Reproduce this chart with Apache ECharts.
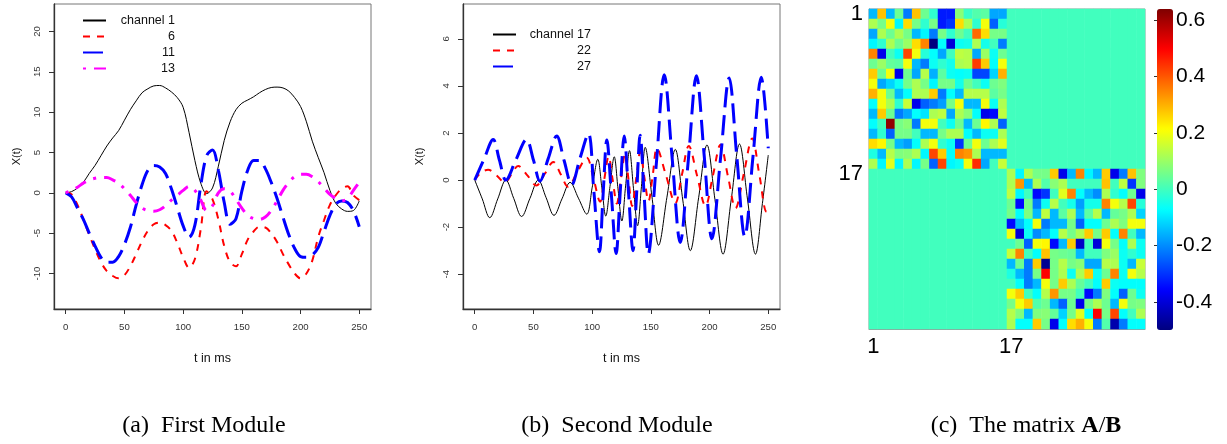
<!DOCTYPE html>
<html><head><meta charset="utf-8">
<script src="https://cdn.jsdelivr.net/npm/echarts@6/dist/echarts.min.js"></script>
<style>html,body{margin:0;padding:0;background:#fff}#c{width:1227px;height:444px}</style>
</head><body><div id="c"></div>
<script>
// ---------- Panel (a): First Module ----------
const tA = [0,5,10,15,20,25,30,35,40,45,50,55,60,65,70,75,80,85,90,95,100,105,110,115,120,125,130,135,140,145,150,155,160,165,170,175,180,185,190,195,200,205,210,215,220,225,230,235,240,245,250];
const ch1  = [0,0.15,0.6,1.3,2.4,3.4,4.6,5.8,6.8,7.7,9.0,10.3,11.4,12.4,12.9,13.25,13.3,13.0,12.5,11.8,10.6,7.5,4.0,1.2,-0.1,0.6,3.3,6.5,8.8,10.3,11.1,11.5,11.9,12.4,12.8,13.05,13.1,13.0,12.6,11.8,10.7,8.8,6.4,4.4,2.5,0.3,-1.3,-2.0,-2.3,-2.2,-1.0];
const ch6  = [0,-0.2,-1.5,-3.3,-5.2,-7.0,-8.6,-9.7,-10.3,-10.6,-10.2,-9.1,-7.6,-6.0,-4.7,-3.9,-3.7,-4.0,-4.7,-6.2,-8.0,-9.3,-8.2,-4.5,0.2,-0.8,-3.3,-6.6,-8.6,-9.1,-7.6,-5.8,-4.8,-4.2,-4.3,-5.0,-6.1,-7.6,-8.9,-10.0,-10.6,-10.0,-8.4,-5.5,-3.4,-1.5,-0.3,0.5,0.8,-0.3,-0.9];
const ch11 = [0,-0.5,-1.9,-3.3,-5.0,-6.6,-8.0,-8.6,-8.6,-7.9,-6.4,-4.3,-1.5,1.0,2.8,3.4,3.2,2.4,0.5,-1.8,-4.1,-5.5,-4.0,0.9,4.6,5.3,2.8,-1.2,-3.9,-3.2,0.2,2.8,4.0,4.0,3.0,1.3,-0.7,-3.0,-5.2,-6.9,-7.9,-8.0,-7.7,-6.8,-4.8,-2.8,-1.4,-1.0,-1.2,-2.2,-4.2];
const ch13 = [0,0.3,0.7,1.2,1.6,1.8,1.9,1.9,1.6,1.2,0.5,-0.3,-1.2,-1.9,-2.2,-2.3,-2.1,-1.6,-0.9,-0.3,0.3,0.8,0.3,-0.9,-2.2,-1.6,0.0,0.5,0.2,-0.8,-1.9,-2.8,-3.2,-3.3,-3.0,-2.2,-1.0,0.3,1.3,2.0,2.3,2.3,2.0,1.4,0.6,-0.2,-0.7,-1.0,-0.7,0.3,1.3];
const xTicks = [0,50,100,150,200,250];
const yTicksA = [-10,-5,0,5,10,15,20];

// ---------- Panel (b): Second Module (key points: time, value) ----------
const t17 = [0,6.4,12.8,19.6,26.5,33.2,39.9,47,54.1,60.8,67.5,74.3,81.2,88.3,95.4,100.1,104.8,108.2,111.6,115.2,118.8,122,125.3,128.5,131.8,135.2,138.7,142,145.2,150.9,156.6,163.7,170.8,177.2,183.6,190.7,197.8,204.6,211.5,218.5,225.5,232.3,239.1,245,250];
const v17 = [0,-0.8,-1.6,-0.8,0,-0.78,-1.55,-0.78,0,-0.75,-1.5,-0.8,-0.1,-0.77,-1.45,-0.3,0.88,-0.3,-1.53,-0.27,0.99,-0.37,-1.74,-0.25,1.25,-0.35,-1.94,-0.27,1.39,-0.69,-2.77,-0.73,1.3,-0.85,-3.0,-0.75,1.49,-0.83,-3.15,-0.81,1.53,-0.81,-3.15,-1.0,1.06];
const t22 = [0,5,11.4,18.5,25.6,31.3,37,44.8,52.5,59.7,66.9,73.2,79.5,87.4,95.4,101,106.8,110.4,114,117.5,121,124.5,128,131,134,137.5,141,144.5,148,151.6,155.2,163,170.8,176.5,182.3,189.4,196.5,202.9,209.3,215.7,222.1,229.2,236.3,242.5,248.6,250];
const v22 = [0,0.3,0.44,0.2,-0.1,0.25,0.6,0.2,-0.23,0.27,0.77,0.25,-0.29,0.35,0.95,0.1,-0.92,0.05,1.0,0,-1.0,0.05,1.1,0,-1.1,0.05,1.2,0.1,-0.9,0.2,1.35,0.18,-0.99,0.23,1.45,0.18,-1.1,0.2,1.5,0.15,-1.2,0.28,1.77,0.2,-1.35,-1.3];
const t27 = [0,8,15.7,21,26.5,35,44.1,50,55.5,62.5,69.8,76,82.6,89.5,96.8,101.5,106.2,109.3,112.5,116.5,120.4,123.8,127.3,131,134.8,137.9,140.9,144.3,147.8,154.6,161.4,168.2,175,182,188.8,195.5,202,209.4,216.7,223.2,230,237,244,250];
const v27 = [0,0.9,1.72,0.85,0,0.85,1.72,0.85,-0.05,0.9,1.87,0.85,-0.2,0.9,1.97,-0.5,-3.05,-0.65,1.7,-0.7,-3.12,-0.6,1.87,-0.55,-3.0,-0.55,1.9,-0.65,-3.15,0.65,4.47,0.9,-2.65,0.9,4.43,1.0,-2.5,0.95,4.34,1.0,-2.4,1.0,4.37,1.35];
const yTicksB = [-4,-2,0,2,4,6];

// ---------- Panel (c): matrix A/B (two 16x16 diagonal blocks, zeros elsewhere) ----------
const blockA = [
 [-0.15,0.28,-0.15,0.05,-0.22,0.28,0.05,-0.02,-0.33,-0.33,0.08,-0.01,0.02,0.03,-0.17,-0.17],
 [0.12,0.06,0.2,-0.08,0.25,0.06,-0.02,0.06,-0.33,-0.3,0.25,0.12,-0.02,0.2,-0.25,-0.03],
 [-0.17,0.12,0.05,0.12,0.06,-0.15,-0.08,-0.22,0.06,-0.02,0.05,0.0,0.38,0.25,0.06,0.06],
 [-0.08,-0.02,0.12,0.05,0.1,0.25,0.35,-0.5,-0.07,-0.4,-0.06,-0.05,0.12,-0.05,0.0,-0.22],
 [0.35,-0.38,0.0,-0.06,0.42,0.2,-0.03,-0.07,-0.17,0.0,0.14,0.13,-0.17,0.1,-0.06,0.05],
 [0.05,0.1,0.04,0.03,0.2,-0.15,-0.22,-0.06,-0.02,-0.05,0.12,0.13,0.43,0.27,-0.07,0.2],
 [0.27,0.05,0.2,-0.38,0.05,-0.17,0.13,-0.16,0.03,-0.06,-0.07,-0.06,-0.28,-0.28,-0.12,0.3],
 [0.2,-0.17,-0.12,-0.06,0.06,0.12,0.06,-0.08,0.06,0.06,-0.05,0.05,0.0,-0.06,0.05,0.07],
 [0.3,0.2,0.05,-0.15,-0.07,0.12,0.12,0.27,-0.22,-0.07,-0.15,0.13,0.13,0.13,0.03,0.06],
 [-0.07,0.2,0.12,-0.02,0.15,-0.38,-0.25,-0.22,-0.18,0.06,0.2,-0.15,-0.15,0.2,-0.06,0.12],
 [-0.15,0.27,0.05,-0.22,-0.17,-0.07,-0.1,0.12,0.14,-0.17,0.12,0.08,-0.07,-0.38,-0.35,0.14],
 [-0.07,0.0,0.62,0.06,0.08,-0.22,0.2,0.2,0.0,-0.06,0.05,-0.15,0.05,0.22,0.12,-0.25],
 [-0.15,-0.02,-0.25,0.06,0.06,0.0,-0.15,-0.15,0.06,0.12,0.12,-0.07,-0.15,-0.06,-0.06,0.12],
 [0.25,0.22,0.06,-0.15,-0.18,-0.07,0.12,0.2,-0.02,-0.06,-0.3,0.05,0.2,0.05,0.12,0.18],
 [-0.04,-0.15,0.13,0.07,0.08,0.12,-0.08,0.42,0.27,-0.07,0.35,0.33,0.12,-0.15,-0.15,-0.15],
 [0.12,-0.08,0.18,-0.08,0.12,-0.08,0.06,-0.25,0.42,-0.08,-0.06,0.2,0.45,-0.17,0.0,0.15]
];
const blockB = [
 [0.12,-0.08,0.12,0.06,0.06,0.27,-0.38,-0.15,0.35,-0.08,-0.15,0.27,-0.38,-0.22,0.28,0.07],
 [0.12,0.33,-0.15,0.12,0.02,0.08,0.12,0.0,0.0,0.0,0.0,0.28,0.0,0.14,-0.3,0.07],
 [0.14,-0.08,0.0,-0.35,-0.3,0.0,0.18,0.35,-0.07,-0.15,-0.2,0.12,-0.02,-0.07,0.05,-0.38],
 [0.05,-0.35,0.06,-0.22,-0.06,0.13,0.0,-0.05,-0.18,-0.05,-0.05,0.35,0.2,0.13,0.42,-0.03],
 [0.06,-0.07,0.07,-0.15,0.14,-0.15,0.03,0.12,-0.15,0.03,0.13,-0.15,0.04,0.06,0.12,-0.12],
 [-0.35,-0.15,-0.07,0.2,-0.22,-0.15,-0.15,0.06,-0.25,-0.07,-0.07,0.05,0.12,0.07,0.2,0.2],
 [0.2,-0.4,-0.06,-0.2,-0.15,-0.07,0.13,0.06,0.12,0.27,0.06,0.27,-0.07,0.35,0.0,-0.15],
 [0.0,0.05,-0.25,0.2,0.22,-0.35,-0.15,0.27,-0.42,0.0,-0.4,0.2,0.06,-0.07,0.12,-0.06],
 [0.15,0.35,0.0,-0.07,0.28,0.06,0.05,0.04,-0.15,0.0,0.0,0.07,0.1,-0.06,-0.02,-0.06],
 [-0.15,0.05,-0.22,0.27,-0.48,0.06,0.13,0.06,0.08,-0.17,-0.17,0.13,0.12,-0.06,-0.15,0.15],
 [-0.04,-0.15,-0.22,0.06,0.5,0.06,0.12,-0.06,0.12,0.27,-0.06,0.05,0.35,-0.06,0.2,0.13],
 [0.0,-0.07,-0.22,-0.15,0.2,0.06,0.27,0.12,0.04,0.0,-0.07,0.27,-0.06,-0.07,-0.07,-0.07],
 [0.2,0.27,0.0,-0.07,0.13,0.33,0.06,0.06,0.0,-0.35,-0.22,0.07,-0.07,-0.25,0.05,-0.06],
 [0.06,0.2,0.27,0.02,0.05,-0.15,-0.25,0.05,-0.38,0.06,0.12,0.05,-0.15,0.2,0.06,0.07],
 [0.13,0.07,-0.15,0.07,0.08,0.04,-0.12,0.06,0.18,-0.07,0.5,0.06,0.42,-0.07,0.0,0.12],
 [0.12,-0.07,-0.07,0.27,0.06,-0.38,-0.07,0.25,0.3,0.2,-0.22,0.02,-0.45,-0.22,-0.07,-0.07]
];
const matIdx = ['1','2','3','4','5','6','7','8','9','10','11','12','13','14','15','16','17','18','19','20','21','22','23','24','25','26','27','28','29','30','31','32'];
const matLabels = ['1','17'];
const cbTicks = [-0.4,-0.2,0,0.2,0.4,0.6];
const jet = ['#00007F','#0000FF','#007FFF','#00FFFF','#7FFF7F','#FFFF00','#FF7F00','#FF0000','#7F0000'];

// ---------- build ----------
const SANS = "'Liberation Sans', Arial, Helvetica, sans-serif";
const zip = (t, v) => t.map((x, i) => [x, v[i]]);
const heat = [];
matIdx.forEach((rn, r) => {
  matIdx.forEach((cn, c) => {
    let v = 0;
    if (r < 16 && c < 16) v = blockA[r][c];
    else if (r >= 16 && c >= 16) v = blockB[r - 16][c - 16];
    heat.push([c, r, v]);
  });
});
const showMat = (i, v) => matLabels.indexOf(String(v)) >= 0;

function lineAxisX(gi) {
  return {
    gridIndex: gi, type: 'value', min: -10, max: 260,
    name: 't in ms', nameLocation: 'middle', nameGap: 43,
    nameTextStyle: { fontFamily: SANS, fontSize: 12.5, color: '#111' },
    axisLine: { show: true, onZero: false, lineStyle: { color: '#333', width: 1.3 } },
    axisTick: { show: true, customValues: xTicks, length: 5, lineStyle: { color: '#333' } },
    axisLabel: { customValues: xTicks, fontFamily: SANS, fontSize: 9.6, color: '#333', margin: 13 },
    splitLine: { show: false }
  };
}
function lineAxisY(gi, min, max, ticks, gap) {
  return {
    gridIndex: gi, type: 'value', min: min, max: max,
    name: 'X(t)', nameLocation: 'middle', nameGap: gap, nameRotate: 90,
    nameTextStyle: { fontFamily: SANS, fontSize: 11, color: '#111' },
    axisLine: { show: true, onZero: false, lineStyle: { color: '#333', width: 1.3 } },
    axisTick: { show: true, customValues: ticks, length: 5, lineStyle: { color: '#333' } },
    axisLabel: { customValues: ticks, rotate: 90, fontFamily: SANS, fontSize: 9.6, color: '#333', margin: 12 },
    splitLine: { show: false }
  };
}
function lineSeries(name, gi, data, color, width, dash) {
  return {
    name: name, type: 'line', xAxisIndex: gi, yAxisIndex: gi, data: data,
    smooth: 0.35, symbol: 'none', animation: false,
    lineStyle: { color: color, width: width, type: dash, cap: 'butt' },
    itemStyle: { color: color }
  };
}
const legendText = (left, top, names, w) => ({
  left: left, top: top, orient: 'vertical', data: names,
  itemWidth: 23, itemHeight: 14, itemGap: 3,
  itemStyle: { color: 'rgba(0,0,0,0)', borderWidth: 0 },
  formatter: '{t|{name}}',
  textStyle: { rich: { t: { width: w, align: 'right', fontFamily: SANS, fontSize: 12.5, color: '#111' } } },
  selectedMode: false
});

const option = {
  backgroundColor: '#fff',
  animation: false,
  grid: [
    { left: 54, top: 4, width: 317, height: 305, show: true, borderColor: '#777', borderWidth: 1, backgroundColor: 'transparent' },
    { left: 463, top: 4, width: 317, height: 305, show: true, borderColor: '#777', borderWidth: 1, backgroundColor: 'transparent' },
    { left: 869, top: 9, width: 276, height: 320, show: true, borderColor: '#999', borderWidth: 1, backgroundColor: 'transparent' },
    { left: 1157, top: 9, width: 16, height: 321, show: false }
  ],
  xAxis: [
    lineAxisX(0), lineAxisX(1),
    { gridIndex: 2, type: 'category', data: matIdx, position: 'bottom',
      axisLine: { show: true, lineStyle: { color: '#999' } },
      axisTick: { show: true, inside: true, alignWithLabel: true, interval: showMat, length: 4, lineStyle: { color: '#222' } },
      axisLabel: { interval: showMat, fontFamily: SANS, fontSize: 22, color: '#000', margin: 7 },
      splitLine: { show: false } },
    { gridIndex: 2, type: 'category', data: matIdx, position: 'top',
      axisLine: { show: false },
      axisTick: { show: true, inside: true, alignWithLabel: true, interval: showMat, length: 4, lineStyle: { color: '#222' } },
      axisLabel: { show: false }, splitLine: { show: false } },
    { gridIndex: 3, type: 'value', show: false, min: 0, max: 1 }
  ],
  yAxis: [
    lineAxisY(0, -14.4, 23.4, yTicksA, 32),
    lineAxisY(1, -5.48, 7.48, yTicksB, 38),
    { gridIndex: 2, type: 'category', data: matIdx, inverse: true, position: 'left',
      axisLine: { show: true, lineStyle: { color: '#999' } },
      axisTick: { show: true, inside: true, alignWithLabel: true, interval: showMat, length: 4, lineStyle: { color: '#222' } },
      axisLabel: { interval: showMat, fontFamily: SANS, fontSize: 22, color: '#000', margin: 6 },
      splitLine: { show: false } },
    { gridIndex: 2, type: 'category', data: matIdx, inverse: true, position: 'right',
      axisLine: { show: false },
      axisTick: { show: true, inside: true, alignWithLabel: true, interval: showMat, length: 4, lineStyle: { color: '#222' } },
      axisLabel: { show: false }, splitLine: { show: false } },
    { gridIndex: 3, type: 'value', min: -0.5, max: 0.64, position: 'right',
      axisLine: { show: false },
      axisTick: { show: true, inside: true, customValues: cbTicks, length: 3, lineStyle: { color: '#333' } },
      axisLabel: { customValues: cbTicks, fontFamily: SANS, fontSize: 21, color: '#000', margin: 3,
                   formatter: v => String(Math.round(v * 10) / 10) },
      splitLine: { show: false } }
  ],
  visualMap: {
    type: 'continuous', seriesIndex: 7, dimension: 2, min: -0.5, max: 0.64,
    calculable: false, orient: 'vertical', left: 1157, top: 9, padding: 0,
    itemWidth: 16, itemHeight: 321, text: null, hoverLink: false,
    inRange: { color: jet }
  },
  legend: [
    legendText(77, 9, ['channel 1', '6', '11', '13'], 64),
    legendText(487, 23, ['channel 17', '22', '27'], 70)
  ],
  series: [
    lineSeries('channel 1', 0, zip(tA, ch1), '#000', 1, 'solid'),
    lineSeries('6', 0, zip(tA, ch6), '#ff0000', 2, [7, 7]),
    lineSeries('11', 0, zip(tA, ch11), '#0000ff', 3, [20, 8]),
    lineSeries('13', 0, zip(tA, ch13), '#ff00ff', 3, [3, 8, 12, 8]),
    lineSeries('channel 17', 1, zip(t17, v17), '#000', 1, 'solid'),
    lineSeries('22', 1, zip(t22, v22), '#ff0000', 2, [7, 7]),
    lineSeries('27', 1, zip(t27, v27), '#0000ff', 3, [20, 8]),
    { type: 'heatmap', xAxisIndex: 2, yAxisIndex: 2, data: heat, animation: false,
      progressive: 0, emphasis: { disabled: true } }
  ],
  graphic: [
    { type: 'text', x: 204, y: 426, style: { text: '(a)  First Module', font: "24px 'Liberation Serif', 'Times New Roman', serif", fill: '#000', textAlign: 'center', textVerticalAlign: 'middle' } },
    { type: 'text', x: 617, y: 426, style: { text: '(b)  Second Module', font: "24px 'Liberation Serif', 'Times New Roman', serif", fill: '#000', textAlign: 'center', textVerticalAlign: 'middle' } },
    { type: 'text', x: 1026, y: 426, style: { text: '(c)  The matrix {b|A}/{b|B}', font: "24px 'Liberation Serif', 'Times New Roman', serif", fill: '#000', textAlign: 'center', textVerticalAlign: 'middle',
      rich: { b: { fontWeight: 'bold', fontSize: 24, fontFamily: "'Liberation Serif', 'Times New Roman', serif" } } } }
  ]
};
const chart = echarts.init(document.getElementById('c'), null, { renderer: 'canvas' });
chart.setOption(option);
</script></body></html>
